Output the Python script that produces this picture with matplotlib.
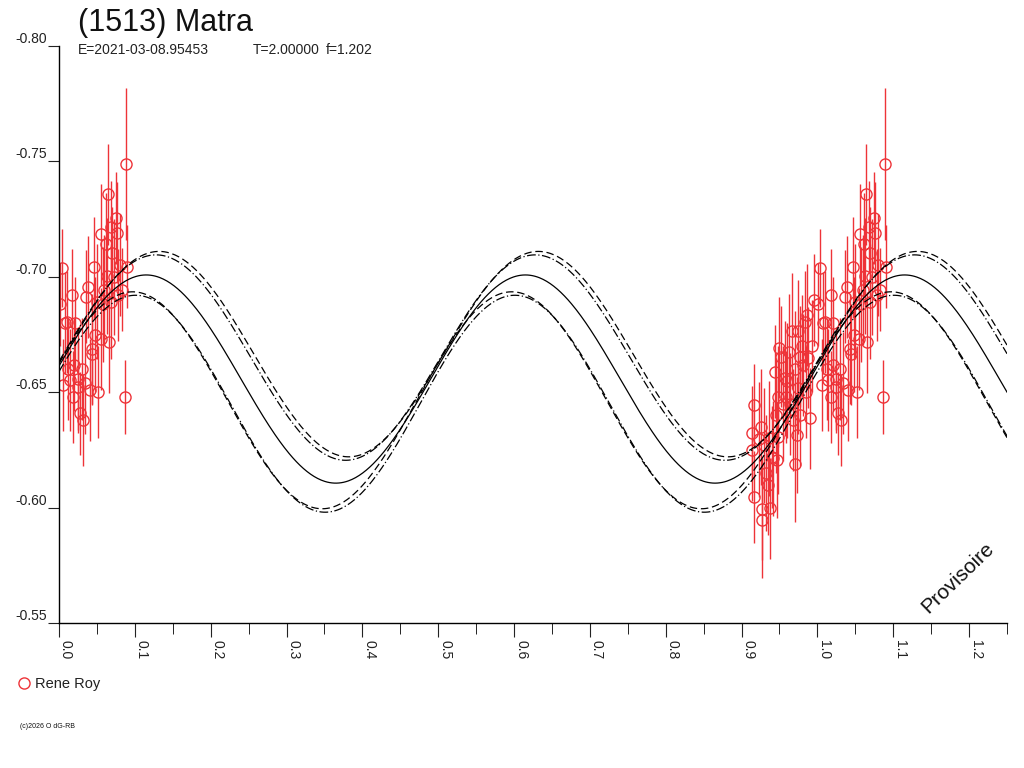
import numpy as np
import matplotlib
matplotlib.use('Agg')
import matplotlib.pyplot as plt

plt.rcParams['font.family'] = ['Liberation Sans', 'DejaVu Sans']

obs_phase = [0.0013, 0.0035, 0.0057, 0.008, 0.010, 0.0145, 0.0175, 0.020, 0.021, 0.025,
             0.025, 0.0276, 0.031, 0.034, 0.036, 0.0386, 0.041, 0.043, 0.044, 0.0465,
             0.0496, 0.052, 0.055, 0.056, 0.0597, 0.0614, 0.063, 0.064, 0.066, 0.068,
             0.069, 0.070, 0.0746, 0.076, 0.0825, 0.087, 0.089, 0.090,
             0.012, 0.018, 0.030, 0.048, 0.058, 0.072, 0.078, 0.080,
             0.9136, 0.9136, 0.9158, 0.9158, 0.923, 0.9268, 0.9276, 0.930, 0.9377, 0.940,
             0.944, 0.9465, 0.9487, 0.9487, 0.952, 0.9575, 0.962, 0.966, 0.968, 0.9706,
             0.9728, 0.974, 0.977, 0.977, 0.9815, 0.983, 0.986, 0.990, 0.949, 0.958,
             0.975, 0.985,
             0.925, 0.932, 0.935, 0.936, 0.942, 0.945, 0.955, 0.960, 0.964, 0.970,
             0.980, 0.988, 0.993, 0.996]
obs_mag = [-0.6881, -0.7037, -0.6531, -0.6800, -0.6803, -0.6553, -0.6921, -0.6620, -0.6798, -0.6556,
           -0.6524, -0.6409, -0.6380, -0.6539, -0.6914, -0.6957, -0.6510, -0.6687, -0.6664, -0.7041,
           -0.6892, -0.6502, -0.6730, -0.7184, -0.6943, -0.7141, -0.7003, -0.7357, -0.6716, -0.7217,
           -0.6892, -0.7102, -0.7256, -0.7191, -0.6943, -0.6481, -0.7489, -0.7044,
           -0.6600, -0.6480, -0.6600, -0.6750, -0.6880, -0.7000, -0.6920, -0.7050,
           -0.6325, -0.6250, -0.6444, -0.6047, -0.6296, -0.5994, -0.5946, -0.6270, -0.5997, -0.6220,
           -0.6589, -0.6206, -0.6481, -0.6308, -0.6654, -0.6560, -0.6675, -0.6765, -0.6380, -0.6188,
           -0.6315, -0.6765, -0.6654, -0.6401, -0.6618, -0.6806, -0.6834, -0.6387, -0.6693, -0.6480,
           -0.6520, -0.6500,
           -0.6350, -0.6150, -0.6100, -0.6300, -0.6213, -0.6400, -0.6450, -0.6550, -0.6450, -0.6600,
           -0.6700, -0.6650, -0.6700, -0.6900]
obs_err = [0.018, 0.017, 0.020, 0.022, 0.022, 0.022, 0.020, 0.020, 0.020, 0.022,
           0.020, 0.018, 0.020, 0.022, 0.020, 0.022, 0.022, 0.024, 0.022, 0.022,
           0.025, 0.020, 0.022, 0.022, 0.024, 0.022, 0.025, 0.022, 0.022, 0.020,
           0.025, 0.020, 0.020, 0.022, 0.018, 0.016, 0.033, 0.018,
           0.022, 0.020, 0.022, 0.025, 0.025, 0.025, 0.020, 0.022,
           0.020, 0.022, 0.018, 0.020, 0.025, 0.022, 0.025, 0.025, 0.022, 0.022,
           0.020, 0.025, 0.022, 0.025, 0.022, 0.025, 0.025, 0.025, 0.022, 0.025,
           0.025, 0.022, 0.022, 0.022, 0.022, 0.022, 0.022, 0.022, 0.022, 0.020,
           0.020, 0.020,
           0.025, 0.025, 0.022, 0.025, 0.025, 0.025, 0.025, 0.025, 0.022, 0.025,
           0.022, 0.022, 0.020, 0.020]

# fourier fit: mean level, amplitude, phase of maximum (period T/2 in phase)
fit_mean = [-0.6557, -0.6665, -0.6650, -0.6465, -0.6450]
fit_amp = [0.0451, 0.0445, 0.0445, 0.0470, 0.0470]
fit_peak = [0.115, 0.132, 0.128, 0.097, 0.101]

title = '(1513) Matra'
info = ['E=2021-03-08.95453', 'T=2.00000', 'f=1.202']
observer = 'Rene Roy'

red = '#EE3338'

fig = plt.figure(figsize=(10.24, 7.68), dpi=100)
ax = fig.add_axes([59/1024, 1-623/768, (1007-59)/1024, (623-46)/768])
ax.set_xlim(0, 1.25)
ax.set_ylim(-0.55, -0.80)

# points are repeated one cycle later
ph = np.array(obs_phase); mg = np.array(obs_mag); er = np.array(obs_err)
for shift in (0.0, 1.0):
    x = ph + shift
    m = (x >= 0) & (x <= 1.25)
    ax.errorbar(x[m], mg[m], yerr=er[m], fmt='o', ms=8, mfc='none', mec=red, mew=1,
                ecolor=red, elinewidth=1, capsize=0, zorder=2)

xx = np.linspace(0, 1.25, 800)
styles = ['-', (0, (6, 3)), (0, (7, 2, 1, 2)), (0, (6, 3)), (0, (7, 2, 1, 2))]
for mean, amp, pk, ls in zip(fit_mean, fit_amp, fit_peak, styles):
    yy = mean - amp*np.cos(4*np.pi*(xx - pk))
    ax.plot(xx, yy, color='black', lw=0.9, ls=ls, zorder=3)

for s in ['top', 'right']:
    ax.spines[s].set_visible(False)
ax.spines['left'].set_linewidth(1)
ax.spines['bottom'].set_linewidth(1)

ax.set_xticks(np.arange(0, 1.21, 0.1))
ax.set_xticks(np.arange(0.05, 1.26, 0.1), minor=True)
ax.set_xticklabels(['%.1f' % v for v in np.arange(0, 1.21, 0.1)], rotation=-90, ha='left', fontsize=10)
ax.tick_params(axis='x', which='major', length=10, pad=2)
ax.tick_params(axis='x', which='minor', length=8)
ax.set_yticks([-0.80, -0.75, -0.70, -0.65, -0.60, -0.55])
ax.set_yticklabels(['-0.80', '-0.75', '-0.70', '-0.65', '-0.60', '-0.55'], va='bottom', fontsize=10)
ax.tick_params(axis='y', length=8, pad=1)
ax.tick_params(colors='#222222')

fig.text(78/1024, 1-31/768, title, fontsize=22, va='baseline', color='#111111')
for txt, px in zip(info, [78, 253, 326]):
    fig.text(px/1024, 1-54/768, txt, fontsize=10, va='baseline', color='#222222')

fig.text(958/1024, 1-578/768, 'Provisoire', fontsize=15, rotation=44, ha='center', va='center', color='#111111')

fig.lines.append(plt.Line2D([24/1024], [1-683/768], marker='o', ms=8, mfc='none', mec=red, mew=1,
                            transform=fig.transFigure, figure=fig))
fig.text(35/1024, 1-688/768, observer, fontsize=10.5, va='baseline', color='#222222')
fig.text(20/1024, 1-728/768, '(c)2026 O dG-RB', fontsize=5, va='baseline', color='#111111')

fig.savefig('out.png', dpi=100)
